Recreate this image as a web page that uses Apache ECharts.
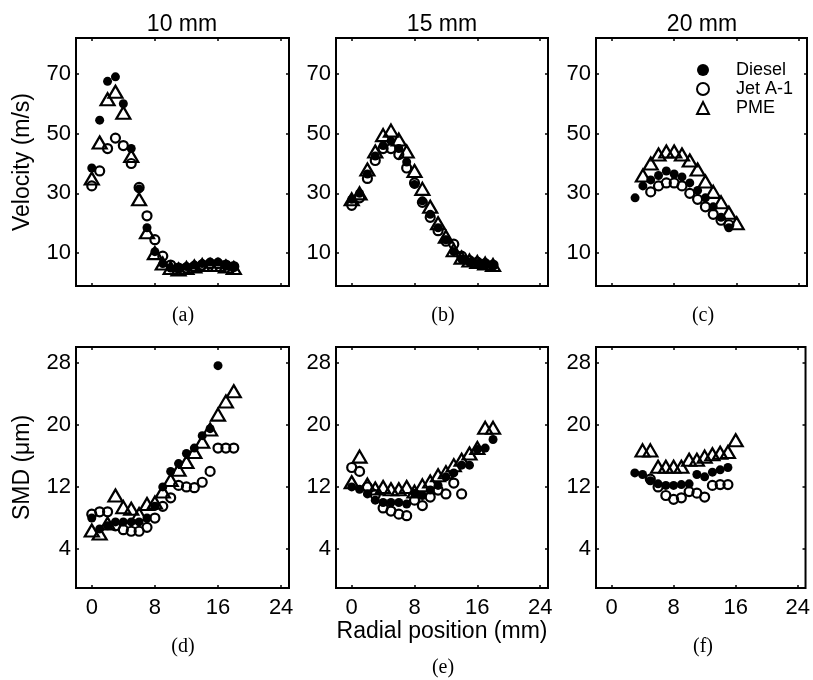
<!DOCTYPE html>
<html>
<head>
<meta charset="utf-8">
<script src="https://cdn.jsdelivr.net/npm/echarts@6/dist/echarts.min.js"></script>
<style>
html, body { margin: 0; padding: 0; background: #fff; }
#chart { width: 813px; height: 680px; }
</style>
</head>
<body>
<div id="chart"></div>
<script>
// radial positions (mm)
const r0to18 = [0, 1, 2, 3, 4, 5, 6, 7, 8, 9, 10, 11, 12, 13, 14, 15, 16, 17, 18];
const r0to16 = [0, 1, 2, 3, 4, 5, 6, 7, 8, 9, 10, 11, 12, 13, 14, 15, 16];
const r0to14 = [0, 1, 2, 3, 4, 5, 6, 7, 8, 9, 10, 11, 12, 13, 14];
const r3to15 = [3, 4, 5, 6, 7, 8, 9, 10, 11, 12, 13, 14, 15];
const r4to16 = [4, 5, 6, 7, 8, 9, 10, 11, 12, 13, 14, 15, 16];
const r5to15 = [5, 6, 7, 8, 9, 10, 11, 12, 13, 14, 15];

// velocity (m/s) at 10 mm
const vel10Diesel = [38.5, 54.5, 67.5, 69, 60, 45, 31.5, 18.5, 10.5, 6.5, 5, 5, 5.5, 6, 6.5, 7, 7, 6, 5.5];
const vel10Jet = [32.5, 37.5, 45, 48.5, 46, 40, 32, 22.5, 14.5, 9, 6, 5, 5, 5.5, 6, 6.5, 6.5, 6, 5.5];
const vel10Pme = [35, 47, 61.5, 64, 57, 42.5, 28, 17, 10, 6.5, 5, 4.5, 5, 5.5, 6, 6, 6, 5.5, 5];
// velocity at 15 mm
const vel15Diesel = [28, 30, 36.5, 42.5, 46, 47.5, 45, 40.5, 33, 27.5, 23, 18.5, 14.5, 10.5, 8, 7, 6.5, 6.5, 6];
const vel15Jet = [26, 28.5, 35, 41, 45, 45, 43, 38.5, 33.5, 27, 22, 17.5, 14, 13, 9, 7.5, 7, 6.5, 6];
const vel15Pme = [28, 30, 38, 44, 49.5, 51, 48, 44, 37.5, 31.5, 25.5, 20, 15.5, 11, 8.5, 7.5, 7, 6.5, 6];
// velocity at 20 mm
const vel20Diesel = [28.5, 32.5, 34.5, 36, 37.5, 36.5, 35.5, 33.5, 31, 28.5, 25.5, 22, 18.5];
const vel20Jet = [30.5, 32.5, 33.5, 33.5, 32.5, 30, 28, 25.5, 23, 21, 19.5];
const vel20Pme = [36, 40, 43, 44, 44, 43, 41, 38, 34, 30.5, 27, 23.5, 20];

// SMD (um) at 10 mm
const smd10Diesel = [8, 6.6, 7, 7.5, 7.5, 7.5, 7.5, 8, 9.5, 12, 14, 15, 16.3, 17, 18.6, 19.5, 27.6];
const smd10Jet = [8.5, 8.8, 8.8, 7, 6.5, 6.3, 6.3, 6.8, 8, 9.5, 10.6, 12.2, 12, 11.9, 12.6, 14, 17, 17, 17];
const smd10Pme = [6.4, 6, 7.3, 10.9, 9.4, 9.2, 8.5, 9.8, 10, 11.4, 12.9, 14.2, 15.2, 16.5, 17.8, 19.4, 21.3, 23, 24.3];
// SMD at 15 mm
const smd15Diesel = [12, 11.7, 11.1, 10.3, 10, 10, 10, 9.8, 11.2, 10.9, 11.6, 12.2, 13.3, 13.8, 14.8, 14.8, 16.8, 17, 18.1];
const smd15Jet = [14.5, 14, 12, 11, 9.3, 8.9, 8.5, 8.3, 10.3, 9.6, 10.7, 11.6, 11.1, 12.5, 11.1];
const smd15Pme = [12.6, 15.9, 12.3, 11.8, 12, 11.7, 11.7, 12, 11.4, 12.2, 12.7, 13.5, 13.9, 14.8, 15.5, 16.3, 17, 19.6, 19.6];
// SMD at 20 mm
const smd20Diesel = [13.8, 13.6, 12.8, 12.4, 12.2, 12.2, 12.3, 12.4, 13.6, 13.3, 13.9, 14.2, 14.5];
const smd20Jet = [13, 12, 10.9, 10.4, 10.6, 11.4, 11.2, 10.7, 12.2, 12.3, 12.3];
const smd20Pme = [16.7, 16.7, 14.6, 14.6, 14.6, 14.6, 15.5, 15.5, 15.9, 16.2, 16.4, 16.5, 18];

// axis ticks and labels
const xTicks = [0, 8, 16, 24];
const velTicks = [10, 30, 50, 70];
const smdTicks = [4, 12, 20, 28];
const heightLabels = ['10 mm', '15 mm', '20 mm'];
const panelTags = ['(a)', '(b)', '(c)', '(d)', '(e)', '(f)'];
const fuels = ['Diesel', 'Jet A-1', 'PME'];

const SANS = 'Liberation Sans, Arial, sans-serif';
const SERIF = 'Liberation Serif, Times New Roman, serif';

let chart = echarts.init(document.getElementById('chart'), null, { renderer: 'canvas' });

function zip(xs, ys) {
    return ys.map(function (y, i) { return [xs[i], y]; });
}

// panel layout
const colLeft = [76, 336, 596];
const colWidth = [213, 212, 211];
const rowTop = [38, 347];
const rowHeight = [248, 241];

const panels = [
    { col: 0, row: 0, data: [zip(r0to18, vel10Diesel), zip(r0to18, vel10Jet), zip(r0to18, vel10Pme)] },
    { col: 1, row: 0, data: [zip(r0to18, vel15Diesel), zip(r0to18, vel15Jet), zip(r0to18, vel15Pme)] },
    { col: 2, row: 0, data: [zip(r3to15, vel20Diesel), zip(r5to15, vel20Jet), zip(r4to16, vel20Pme)] },
    { col: 0, row: 1, data: [zip(r0to16, smd10Diesel), zip(r0to18, smd10Jet), zip(r0to18, smd10Pme)] },
    { col: 1, row: 1, data: [zip(r0to18, smd15Diesel), zip(r0to14, smd15Jet), zip(r0to18, smd15Pme)] },
    { col: 2, row: 1, data: [zip(r3to15, smd20Diesel), zip(r5to15, smd20Jet), zip(r4to16, smd20Pme)] }
];

const markerStyle = [
    { symbol: 'circle', symbolSize: 9, itemStyle: { color: '#000', opacity: 1 } },
    { symbol: 'circle', symbolSize: 9, itemStyle: { color: 'rgba(0,0,0,0)', borderColor: '#000', borderWidth: 2.2, opacity: 1 } },
    { symbol: 'triangle', symbolSize: [14, 12], itemStyle: { color: 'rgba(0,0,0,0)', borderColor: '#000', borderWidth: 2.2, opacity: 1 } }
];

let grid = [], xAxis = [], yAxis = [], series = [], graphic = [];

panels.forEach(function (p, i) {
    grid.push({
        left: colLeft[p.col], top: rowTop[p.row],
        width: colWidth[p.col], height: rowHeight[p.row],
        show: true, borderColor: '#000', borderWidth: 2,
        backgroundColor: 'rgba(0,0,0,0)'
    });

    let yTicks = p.row === 0 ? velTicks : smdTicks;
    let tickStyle = { color: '#000', width: 1.5 };

    // bottom + top x axes (top one only carries ticks)
    ['bottom', 'top'].forEach(function (pos) {
        let ax = {
            gridIndex: i, type: 'value', min: -2, max: 25, position: pos,
            axisLine: { show: false, onZero: false },
            splitLine: { show: false },
            axisTick: { show: true, inside: true, length: 3, customValues: xTicks, lineStyle: tickStyle },
            axisLabel: {
                show: pos === 'bottom' && p.row === 1, customValues: xTicks,
                margin: 9, color: '#000', fontSize: 22, fontFamily: SANS
            }
        };
        if (pos === 'bottom' && i === 4) {
            ax.name = 'Radial position (mm)';
            ax.nameLocation = 'middle';
            ax.nameGap = 30;
            ax.nameTextStyle = { color: '#000', fontSize: 23, fontFamily: SANS };
        }
        xAxis.push(ax);
    });

    ['left', 'right'].forEach(function (pos) {
        let ax = {
            gridIndex: i, type: 'value', position: pos,
            min: -1, max: p.row === 0 ? 82 : 30,
            axisLine: { show: false, onZero: false },
            splitLine: { show: false },
            axisTick: { show: true, inside: true, length: 3, customValues: yTicks, lineStyle: tickStyle },
            axisLabel: {
                show: pos === 'left', customValues: yTicks,
                margin: 5, color: '#000', fontSize: 22, fontFamily: SANS
            }
        };
        if (pos === 'left' && p.col === 0) {
            ax.name = p.row === 0 ? 'Velocity (m/s)' : 'SMD (\u03bcm)';
            ax.nameLocation = 'middle';
            ax.nameGap = 42;
            ax.nameTextStyle = { color: '#000', fontSize: 23, fontFamily: SANS };
        }
        yAxis.push(ax);
    });

    p.data.forEach(function (d, k) {
        series.push(Object.assign({
            name: fuels[k],
            type: 'scatter',
            xAxisIndex: i * 2,
            yAxisIndex: i * 2,
            data: d,
            z: 2 + k
        }, markerStyle[k]));
    });

    // (a)..(f) tags
    let tagY = p.row === 0 ? 316 : (p.col === 1 ? 668 : 647);
    graphic.push({
        type: 'text',
        x: colLeft[p.col] + 107, y: tagY,
        style: { text: panelTags[i], font: '20px ' + SERIF, fill: '#000', textAlign: 'center', textVerticalAlign: 'middle' }
    });
});

heightLabels.forEach(function (t, c) {
    graphic.push({
        type: 'text',
        x: colLeft[c] + 106, y: 25,
        style: { text: t, font: '23px ' + SANS, fill: '#000', textAlign: 'center', textVerticalAlign: 'middle' }
    });
});

let option = {
    animation: false,
    backgroundColor: '#fff',
    grid: grid,
    xAxis: xAxis,
    yAxis: yAxis,
    legend: {
        data: fuels,
        orient: 'vertical',
        left: 696,
        top: 61,
        padding: 0,
        itemWidth: 12,
        itemHeight: 12,
        itemGap: 1,
        textStyle: { color: '#000', fontSize: 18, fontFamily: SANS, lineHeight: 13, padding: [0, 0, 0, 22] }
    },
    graphic: graphic,
    series: series
};

chart.setOption(option);
</script>
</body>
</html>
